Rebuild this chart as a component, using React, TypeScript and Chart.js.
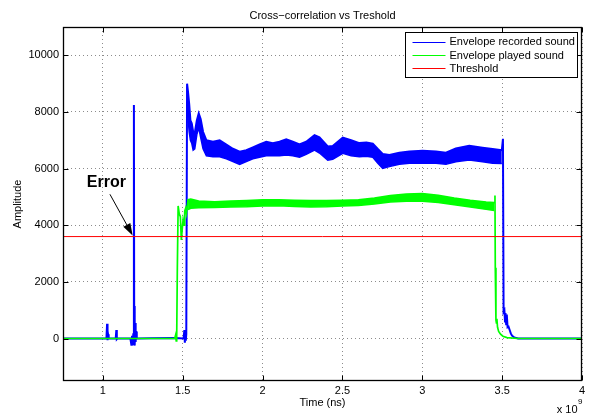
import { useEffect, useRef } from "react";
import { Chart, registerables } from "chart.js";

Chart.register(...registerables);

// ---------- axes ----------
const T_UNIT = 1e9; // times below are in units of 10^9 ns
const X_MIN = 0.75;
const X_MAX = 4;
const X_TICKS = [1, 1.5, 2, 2.5, 3, 3.5, 4];
const Y_MIN = -1500;
const Y_MAX = 11000;
const Y_TICKS = [0, 2000, 4000, 6000, 8000, 10000];

const TITLE = "Cross\u2212correlation vs Treshold";
const X_LABEL = "Time (ns)";
const Y_LABEL = "Amplitude";
const SERIES_LABELS = ["Envelope recorded sound", "Envelope played sound", "Threshold"];

// ---------- threshold ----------
const THRESHOLD = 3600;

// ---------- envelope recorded sound (blue) ----------
const recPreT = [0.75, 1.0, 1.022, 1.026, 1.029, 1.032, 1.036, 1.08, 1.084, 1.087, 1.09, 1.172, 1.178, 1.182, 1.186, 1.19, 1.194, 1.196, 1.198, 1.2, 1.202, 1.205, 1.208, 1.212, 1.22, 1.3, 1.45, 1.505, 1.51, 1.513, 1.516, 1.519, 1.522];
const recPreV = [0, 0, 0, 520, -60, 150, 0, 0, 300, -20, 0, 0, -220, 100, -240, 150, 8250, 200, 1150, -250, 550, -120, 250, 0, 0, 10, 20, 0, 300, -150, 100, -80, 150];

const recBandT = [1.527, 1.533, 1.54, 1.548, 1.556, 1.565, 1.575, 1.588, 1.6, 1.612, 1.627, 1.648, 1.689, 1.731, 1.773, 1.814, 1.856, 1.898, 1.939, 1.981, 2.023, 2.064, 2.106, 2.148, 2.189, 2.231, 2.273, 2.325, 2.356, 2.408, 2.439, 2.502, 2.554, 2.606, 2.65, 2.69, 2.72, 2.752, 2.794, 2.856, 2.919, 3.002, 3.086, 3.148, 3.21, 3.294, 3.377, 3.44, 3.498];
const recBandUpper = [9000, 8700, 8300, 7700, 7600, 7300, 7250, 7700, 7950, 7750, 7300, 7000, 6950, 7000, 6850, 6700, 6600, 6650, 6750, 6850, 6950, 6900, 6950, 7030, 6950, 6850, 6950, 7180, 7100, 6780, 6800, 7090, 7000, 6900, 6920, 6880, 6700, 6520, 6480, 6560, 6600, 6630, 6600, 6560, 6710, 6810, 6740, 6690, 6650];
const recBandLower = [8900, 7800, 7300, 7000, 6900, 6650, 6700, 7200, 7450, 7100, 6700, 6450, 6420, 6420, 6350, 6250, 6150, 6250, 6350, 6400, 6450, 6450, 6450, 6480, 6450, 6400, 6500, 6650, 6550, 6300, 6330, 6540, 6450, 6420, 6440, 6400, 6200, 6010, 6070, 6150, 6190, 6200, 6190, 6150, 6240, 6300, 6240, 6190, 6180];

const recPostT = [3.505, 3.509, 3.514, 3.518, 3.521, 3.525, 3.529, 3.534, 3.54, 3.547, 3.554, 3.562, 3.575, 3.6, 4.0];
const recPostV = [7050, 950, 1000, 600, 900, 500, 850, 400, 420, 300, 180, 100, 40, 0, 0];

// ---------- envelope played sound (green) ----------
const playPreT = [0.75, 1.3, 1.45, 1.455, 1.459, 1.462, 1.466, 1.471, 1.478, 1.485, 1.491, 1.497, 1.502, 1.508, 1.512, 1.518, 1.523];
const playPreV = [0, 0, 10, 120, -80, 50, 2500, 4680, 4400, 4300, 3480, 3900, 4190, 4000, 4500, 4600, 4420];

const playBandT = [1.533, 1.55, 1.6, 1.7, 1.8, 1.9, 2.0, 2.1, 2.2, 2.3, 2.4, 2.5, 2.6, 2.7, 2.8, 2.9, 3.0, 3.1, 3.2, 3.3, 3.4, 3.45];
const playBandUpper = [4900, 4920, 4850, 4830, 4850, 4870, 4900, 4900, 4880, 4870, 4870, 4880, 4900, 4960, 5050, 5100, 5120, 5060, 4960, 4880, 4820, 4800];
const playBandLower = [4550, 4600, 4620, 4630, 4640, 4650, 4680, 4690, 4660, 4640, 4650, 4680, 4700, 4750, 4820, 4850, 4850, 4800, 4720, 4640, 4560, 4520];

const playPostT = [3.455, 3.457, 3.461, 3.464, 3.467, 3.471, 3.478, 3.49, 3.505, 3.53, 3.6, 4.0];
const playPostV = [5050, 2500, 660, 550, 700, 400, 250, 150, 80, 30, 0, 0];

// ---------- annotation ----------
const ERROR_TEXT = "Error";
const ERROR_TEXT_AT = [1.022, 5500];
const ERROR_ARROW_FROM = [1.044, 5093];
const ERROR_ARROW_TO = [1.186, 3640];

const FONT = '"Liberation Sans", Arial, Helvetica, sans-serif';
const BLUE = "#0000ff";
const GREEN = "#00ff00";
const RED = "#ff0000";

const pts = (ts: number[], vs: number[]) => ts.map((t, i) => ({ x: t * T_UNIT, y: vs[i] }));

const framePlugin = {
  id: "matlabFrame",
  beforeDraw(chart: any) {
    const { ctx, width, height } = chart;
    ctx.save();
    ctx.fillStyle = "#fff";
    ctx.fillRect(0, 0, width, height);
    ctx.restore();
  },
  afterDraw(chart: any) {
    const { ctx, chartArea: a, scales } = chart;
    const xs = scales.x;
    const ys = scales.y;
    ctx.save();
    // box
    const L = Math.round(a.left) + 0.5;
    const R = Math.round(a.right) - 0.5;
    const T = Math.round(a.top) + 0.5;
    const B = Math.round(a.bottom) - 0.5;
    ctx.strokeStyle = "#000";
    ctx.lineWidth = 1.3;
    ctx.strokeRect(L, T, R - L, B - T);
    // inward ticks on all sides
    const tl = 5;
    ctx.lineWidth = 1;
    ctx.beginPath();
    xs.ticks.forEach((t: any) => {
      const px = Math.round(xs.getPixelForValue(t.value)) + 0.5;
      ctx.moveTo(px, B);
      ctx.lineTo(px, B - tl);
      ctx.moveTo(px, T);
      ctx.lineTo(px, T + tl);
    });
    ys.ticks.forEach((t: any) => {
      const py = Math.round(ys.getPixelForValue(t.value)) + 0.5;
      ctx.moveTo(L, py);
      ctx.lineTo(L + tl, py);
      ctx.moveTo(R, py);
      ctx.lineTo(R - tl, py);
    });
    ctx.stroke();

    // title & axis labels
    ctx.fillStyle = "#000";
    ctx.font = `11px ${FONT}`;
    ctx.textAlign = "center";
    ctx.textBaseline = "middle";
    const cx = (a.left + a.right) / 2;
    ctx.fillText(TITLE, cx, 15.5);
    ctx.fillText(X_LABEL, cx, 403);
    ctx.save();
    ctx.translate(18, (a.top + a.bottom) / 2);
    ctx.rotate(-Math.PI / 2);
    ctx.fillText(Y_LABEL, 0, 0);
    ctx.restore();
    // exponent
    ctx.textAlign = "right";
    ctx.fillText("x 10", a.right - 4.5, 409.5);
    ctx.font = `8px ${FONT}`;
    ctx.textAlign = "left";
    ctx.fillText("9", a.right - 4, 401.5);

    // legend
    ctx.font = `11px ${FONT}`;
    const items = chart.data.datasets.filter((d: any) => d.label);
    const maxW = Math.max(...items.map((d: any) => ctx.measureText(d.label).width));
    const lw = 7 + 33 + 4 + maxW + 3;
    const lRight = Math.round(a.right - 5) + 0.5;
    const lLeft = Math.round(lRight - lw) + 0.5;
    const lTop = Math.round(a.top + 5) + 0.5;
    const lH = 45;
    ctx.fillStyle = "#fff";
    ctx.fillRect(lLeft, lTop, lRight - lLeft, lH);
    ctx.strokeStyle = "#000";
    ctx.lineWidth = 1;
    ctx.strokeRect(lLeft, lTop, lRight - lLeft, lH);
    items.forEach((d: any, i: number) => {
      const ry = lTop + 9.2 + i * 13.3;
      ctx.strokeStyle = d.borderColor;
      ctx.lineWidth = 1;
      ctx.beginPath();
      ctx.moveTo(lLeft + 7, Math.round(ry) + 0.5);
      ctx.lineTo(lLeft + 40, Math.round(ry) + 0.5);
      ctx.stroke();
      ctx.fillStyle = "#000";
      ctx.textAlign = "left";
      ctx.textBaseline = "middle";
      ctx.fillText(d.label, lLeft + 44, ry + 0.5);
    });

    // annotation
    const tx = xs.getPixelForValue(ERROR_TEXT_AT[0] * T_UNIT);
    const ty = ys.getPixelForValue(ERROR_TEXT_AT[1]);
    ctx.font = `bold 16px ${FONT}`;
    ctx.textAlign = "center";
    ctx.textBaseline = "middle";
    ctx.fillStyle = "#000";
    ctx.fillText(ERROR_TEXT, tx, ty);
    const x1 = xs.getPixelForValue(ERROR_ARROW_FROM[0] * T_UNIT);
    const y1 = ys.getPixelForValue(ERROR_ARROW_FROM[1]);
    const x2 = xs.getPixelForValue(ERROR_ARROW_TO[0] * T_UNIT);
    const y2 = ys.getPixelForValue(ERROR_ARROW_TO[1]);
    const ang = Math.atan2(y2 - y1, x2 - x1);
    const hl = 12;
    const hw = 4;
    const bx = x2 - hl * Math.cos(ang);
    const by = y2 - hl * Math.sin(ang);
    ctx.strokeStyle = "#000";
    ctx.lineWidth = 1;
    ctx.beginPath();
    ctx.moveTo(x1, y1);
    ctx.lineTo(bx, by);
    ctx.stroke();
    ctx.beginPath();
    ctx.moveTo(x2, y2);
    ctx.lineTo(bx + hw * Math.sin(ang), by - hw * Math.cos(ang));
    ctx.lineTo(bx - hw * Math.sin(ang), by + hw * Math.cos(ang));
    ctx.closePath();
    ctx.fillStyle = "#000";
    ctx.fill();
    ctx.restore();
  },
};

export default function App() {
  const ref = useRef<HTMLCanvasElement | null>(null);

  useEffect(() => {
    document.body.style.margin = "0";
    const canvas = ref.current;
    if (!canvas) return;

    const recMain = [
      ...pts(recPreT, recPreV),
      ...pts(recBandT, recBandUpper),
      ...pts(recPostT, recPostV),
    ];
    const recLow = pts(recBandT, recBandLower);
    const playMain = [
      ...pts(playPreT, playPreV),
      ...pts(playBandT, playBandUpper),
      ...pts(playPostT, playPostV),
    ];
    const playLow = pts(playBandT, playBandLower);
    const thr = pts([X_MIN, X_MAX], [THRESHOLD, THRESHOLD]);

    const common = { pointRadius: 0, tension: 0, borderJoinStyle: "miter" as const };

    const chart = new Chart(canvas, {
      type: "line",
      data: {
        datasets: [
          { ...common, label: SERIES_LABELS[0], data: recMain, borderColor: BLUE, borderWidth: 2, fill: false, order: 3 },
          { ...common, label: "", data: recLow, borderColor: BLUE, borderWidth: 1.5, backgroundColor: BLUE, fill: "-1", order: 3 },
          { ...common, label: SERIES_LABELS[1], data: playMain, borderColor: GREEN, borderWidth: 1.7, fill: false, order: 2 },
          { ...common, label: "", data: playLow, borderColor: GREEN, borderWidth: 1.5, backgroundColor: GREEN, fill: "-1", order: 2 },
          { ...common, label: SERIES_LABELS[2], data: thr, borderColor: RED, borderWidth: 1, fill: false, order: 1 },
        ],
      },
      options: {
        animation: false,
        responsive: false,
        maintainAspectRatio: false,
        events: [],
        layout: { padding: { left: 0, right: 8, top: 27, bottom: 0 } },
        plugins: {
          legend: { display: false },
          title: { display: false },
          tooltip: { enabled: false },
        },
        scales: {
          x: {
            type: "linear",
            min: X_MIN * T_UNIT,
            max: X_MAX * T_UNIT,
            afterFit: (s: any) => {
              s.height = 35;
            },
            afterBuildTicks: (s: any) => {
              s.ticks = X_TICKS.map((v) => ({ value: v * T_UNIT }));
            },
            ticks: {
              autoSkip: false,
              maxRotation: 0,
              padding: 3,
              color: "#000",
              font: { family: FONT, size: 11 },
              callback: (v: any) => String(Number(v) / T_UNIT),
            },
            grid: { color: "#8c8c8c", lineWidth: 1, drawTicks: false },
            border: { display: false, dash: [1, 3] },
          },
          y: {
            type: "linear",
            min: Y_MIN,
            max: Y_MAX,
            afterFit: (s: any) => {
              s.width = 63;
            },
            afterBuildTicks: (s: any) => {
              s.ticks = Y_TICKS.map((v) => ({ value: v }));
            },
            ticks: {
              autoSkip: false,
              padding: 4,
              color: "#000",
              font: { family: FONT, size: 11 },
              callback: (v: any) => String(v),
            },
            grid: { color: "#8c8c8c", lineWidth: 1, drawTicks: false },
            border: { display: false, dash: [1, 3] },
          },
        },
      },
      plugins: [framePlugin],
    });

    return () => chart.destroy();
  }, []);

  return (
    <div style={{ width: 590, height: 416 }}>
      <canvas ref={ref} width={590} height={416} style={{ display: "block" }} />
    </div>
  );
}
